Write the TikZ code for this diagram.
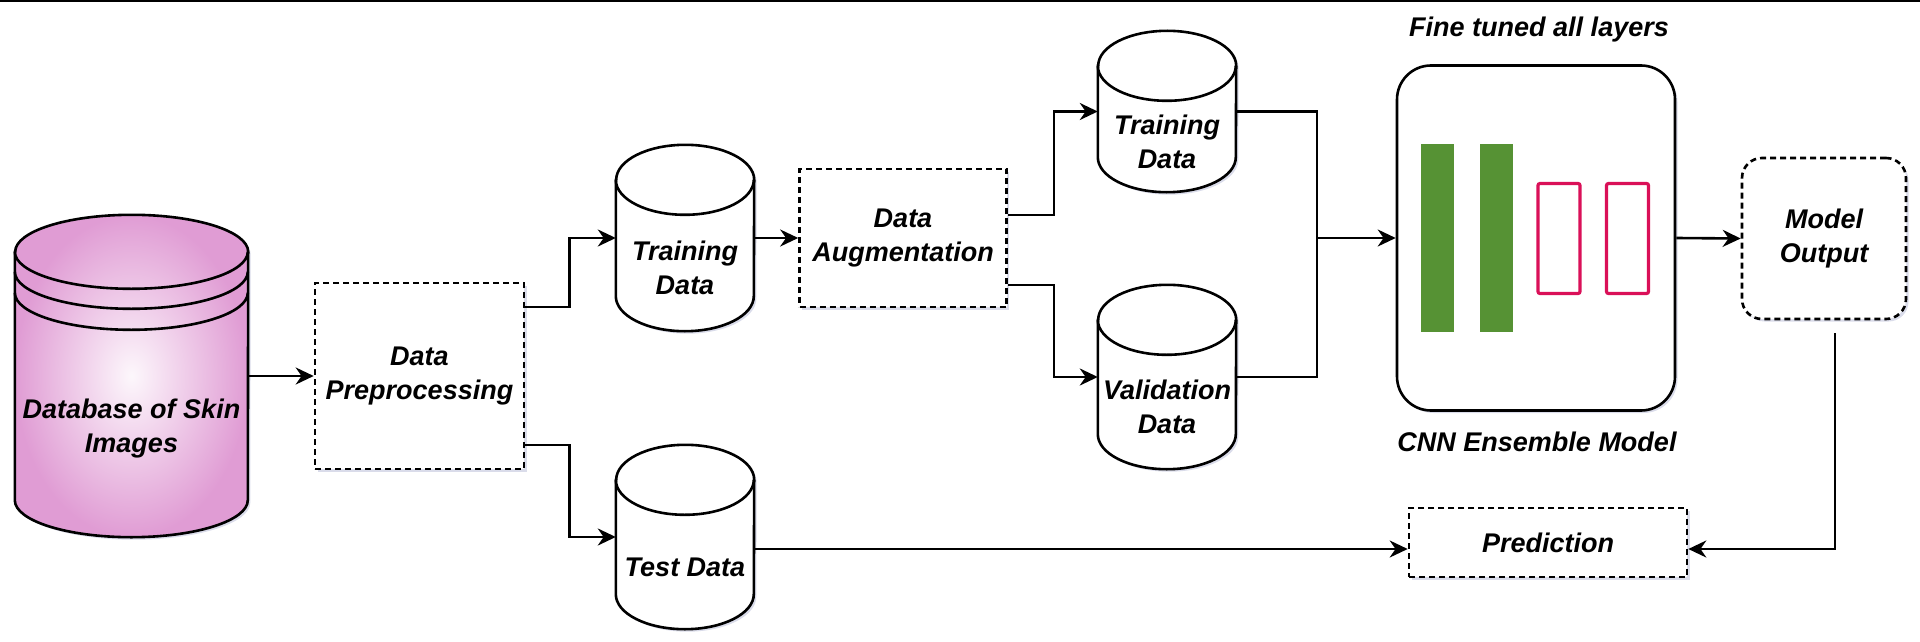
\documentclass[tikz,border=0pt]{standalone}
\usepackage{fontspec}
\setmainfont{Liberation Sans}
\usetikzlibrary{shapes.geometric,arrows.meta,positioning,shadows}

\definecolor{dbpink}{RGB}{224,156,212}
\definecolor{layergreen}{RGB}{86,146,52}
\definecolor{layerred}{RGB}{218,16,88}
\definecolor{shadowblue}{RGB}{150,155,195}

\pgfdeclarelayer{background}
\pgfsetlayers{background,main}

% outline of a storage drum round a named node: #1 options, #2 node, #3 x radius, #4 y radius
\newcommand{\drawdrum}[4][]{%
  \draw[drum,#1] ([yshift=-#4]#2.north west) -- ([yshift=#4]#2.south west)
    arc[start angle=180,end angle=360,x radius=#3,y radius=#4]
    -- ([yshift=-#4]#2.north east)
    arc[start angle=0,end angle=180,x radius=#3,y radius=#4] -- cycle;
  \draw[line] ([yshift=-#4]#2.north west) arc[start angle=180,end angle=360,x radius=#3,y radius=#4];
}

\begin{document}
\begin{tikzpicture}[x=1pt,y=-1pt,
  every node/.style={font=\fontsize{27}{34}\selectfont\bfseries\itshape,align=center,inner sep=0pt},
  soft/.style={drop shadow={shadow xshift=2.5pt,shadow yshift=-2.5pt,fill=shadowblue,opacity=0.35}},
  line/.style={line width=2.6pt},
  drum/.style={line,fill=white,soft},
  store/.style={rectangle,minimum width=138pt,minimum height=186pt},
  box/.style={rectangle,draw,line width=2.6pt,dash pattern=on 6pt off 4pt,fill=white,soft},
  convbar/.style={rectangle,fill=layergreen,minimum width=33pt,minimum height=188pt},
  densebox/.style={rectangle,draw=layerred,line width=3.2pt,rounded corners=2pt,minimum width=42pt,minimum height=110pt},
  arr/.style={line,-{Stealth[length=18pt,width=17pt]}}
]
\useasboundingbox (0,0) rectangle (1920,642);
\fill (0,0) rectangle (1920,2.5);

% storages
\node[store,minimum width=233pt,minimum height=322pt,
  label={[yshift=-53pt]center:{Database of Skin\\Images}}] (db) at (131.5,376) {};
\node[store,label={[yshift=-30pt]center:{Training\\Data}}] (train1) at (685,238) {};
\node[store,minimum height=184pt,label={[yshift=-30pt]center:{Test Data}}] (test) at (685,537) {};
\node[store,minimum height=161pt,label={[yshift=-30pt]center:{Training\\Data}}] (train2) at (1167,111.5) {};
\node[store,minimum height=184pt,label={[yshift=-30pt]center:{Validation\\Data}}] (valid) at (1167,377) {};

\begin{pgfonlayer}{background}
\drawdrum[inner color=dbpink!8,outer color=dbpink]{db}{116.5pt}{37pt}
\draw[line] ([yshift=-57pt]db.north west) arc[start angle=180,end angle=360,x radius=116.5pt,y radius=37pt];
\draw[line] ([yshift=-78pt]db.north west) arc[start angle=180,end angle=360,x radius=116.5pt,y radius=37pt];
\drawdrum{train1}{69pt}{35pt}
\drawdrum{test}{69pt}{35pt}
\drawdrum{train2}{69pt}{35pt}
\drawdrum{valid}{69pt}{35pt}
\end{pgfonlayer}

% processing steps
\node[box,minimum width=209pt,minimum height=186pt] (prep) at (419.5,376) {Data\\Preprocessing};
\node[box,minimum width=207pt,minimum height=138pt] (aug) at (903,238) {Data\\Augmentation};

% ensemble model
\node[rectangle,draw,line width=2.6pt,rounded corners=34pt,fill=white,soft,
  minimum width=278pt,minimum height=345pt] (cnn) at (1536,238) {};
\node[convbar] (conv1) at (1437,237.5) {};
\node[convbar] (conv2) at (1496,237.5) {};
\node[densebox] (dense1) at (1559,238.5) {};
\node[densebox] (dense2) at (1627.5,238.5) {};
\node (finetune) at (1539,30) {Fine tuned all layers};
\node (ensemble) at (1537,442) {CNN Ensemble Model};

\node[box,rounded corners=20pt,minimum width=164pt,minimum height=161pt] (out) at (1824,238.5) {Model\\Output};
\node[box,minimum width=278pt,minimum height=69pt] (pred) at (1548,542.5) {Prediction};

\coordinate (merge) at (1317,238);

\draw[arr] (db.east) -- (prep.west);
\draw[arr] ([yshift=69pt]prep.east) -- ++(44,0) |- (train1.west);
\draw[arr] ([yshift=-69pt]prep.east) -- ++(44,0) |- (test.west);
\draw[arr] (train1.east) -- (aug.west);
\draw[arr] ([yshift=23pt]aug.east) -- ++(46,0) |- (train2.west);
\draw[arr] ([yshift=-47pt]aug.east) -- ++(46,0) |- (valid.west);
\draw[line] (train2.east) -| (merge);
\draw[line] (valid.east) -| (merge);
\draw[arr] (merge) -- (cnn.west);
\draw[arr] (cnn.east) -- (out.west);
\draw[arr] ([xshift=11pt,yshift=-13pt]out.south) |- ([yshift=-6.5pt]pred.east);
\draw[arr] ([yshift=-12pt]test.east) -- ([yshift=-6.5pt]pred.west);

\end{tikzpicture}
\end{document}
